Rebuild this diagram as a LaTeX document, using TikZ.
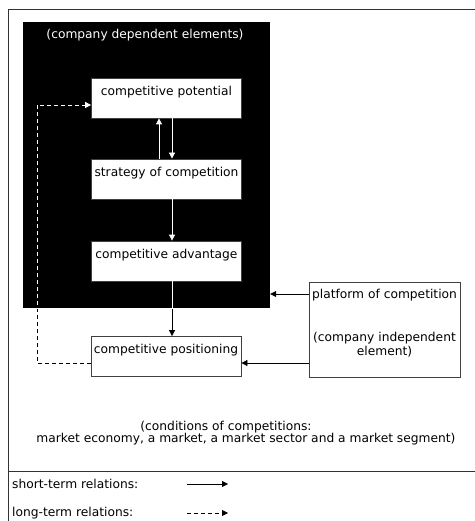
\documentclass[tikz,border=0pt]{standalone}
\usepackage{fontspec}
\setmainfont{DejaVu Sans}
\usetikzlibrary{arrows.meta}

\begin{document}
\begin{tikzpicture}[x=1bp, y=-1bp, font=\fontsize{12.3}{14.5}\selectfont,
	every node/.style={inner sep=0pt},
	box/.style={draw=black!75, line width=0.8bp, fill=white, minimum width=150bp, minimum height=40bp, align=center},
	link/.style={line width=0.8bp, -{Triangle[length=6bp,width=6bp]}},
	longlink/.style={link, dash pattern=on 4bp off 3bp}]
			\useasboundingbox (0,0) rectangle (475,521);
			% frame and legend line
			\draw[line width=1bp, black!80] (475,9.5) -- (8.5,9.5) -- (8.5,521);
			\draw[line width=1bp, black!80] (8.5,471.5) -- (475,471.5);
			
			% company dependent block
			\node[fill=black, minimum width=247bp, minimum height=286bp] (blk) at (146.5,165) {};
			\node[text=white] (title) at (145,35) {(company dependent elements)};
			
			\node[box] (pot) at (166.5,98) {competitive potential\\~};
			\node[box] (str) at (166.5,179) {strategy of competition\\~};
			\node[box] (adv) at (166.5,261) {competitive advantage\\~};
			\node[box] (pos) at (166,356.5) {competitive positioning\\~};
			\node[box, minimum width=151bp, minimum height=95bp] (plt) at (384.5,329.5)
				{platform of competition\\~\\~\\(company independent\\element)\\~};
			
			\coordinate (c1) at (37,363);
			\coordinate (c2) at (37,105);
			
			\path[link, white] (str.north -| 159,0) edge (pot.south -| 159,0);
			\path[link, white] (pot.south -| 172,0) edge (str.north -| 172,0);
			\path[link, white] (str.south -| 172,0) edge (adv.north -| 172,0);
			\path[link] (adv.south -| 172,0) edge (pos.north -| 172,0);
			\path[link] (plt.west |- 0,294) edge (blk.east |- 0,294);
			\path[link] (plt.west |- 0,363) edge (pos.east |- 0,363);
			\draw[longlink] (pos.west |- c1) -- (c1) -- (c2) -- (pot.west |- c2);
			% white parts inside the black block
			\begin{scope}
			\clip (blk.north west) rectangle (blk.south east);
			\path[link, white] (adv.south -| 172,0) edge (pos.north -| 172,0);
			\draw[longlink, white] (pos.west |- c1) -- (c1) -- (c2) -- (pot.west |- c2);
			\end{scope}
			
			% conditions
			\node (cond1) at (226,427) {(conditions of competitions:};
			\node (cond2) at (246,439) {market economy, a market, a market sector and a market segment)};
			
			% legend
			\node[anchor=west] (short) at (12,484) {short-term relations:};
			\node[anchor=west] (long) at (12,513) {long-term relations:};
			\coordinate (s1) at (187,484);
			\coordinate (s2) at (228,484);
			\coordinate (l1) at (187,513);
			\coordinate (l2) at (228,513);
			\draw[link] (s1) -- (s2);
			\draw[longlink] (l1) -- (l2);
			\end{tikzpicture}
\end{document}
